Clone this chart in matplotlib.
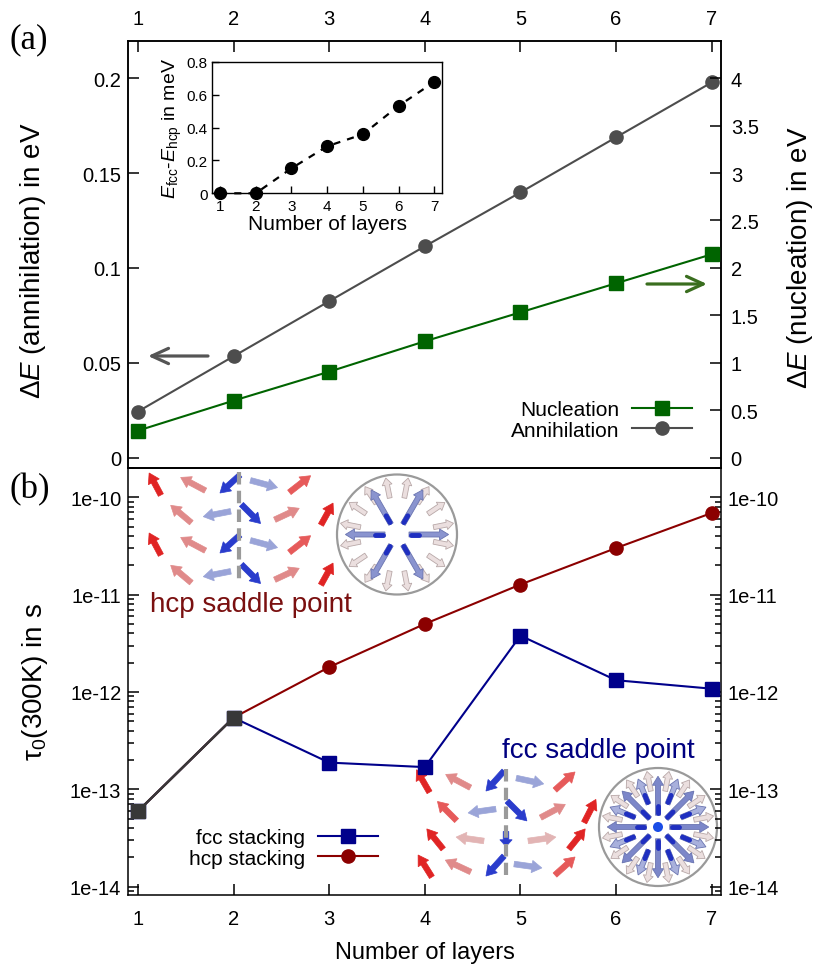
import numpy as np
import matplotlib
matplotlib.use('Agg')
import matplotlib.pyplot as plt
from matplotlib.patches import FancyArrow, Circle
from matplotlib.ticker import FixedLocator, FuncFormatter, LogLocator, NullFormatter

plt.rcParams['font.family'] = ['Liberation Sans', 'DejaVu Sans']
plt.rcParams['mathtext.fontset'] = 'custom'
plt.rcParams['mathtext.rm'] = 'Liberation Sans'
plt.rcParams['mathtext.it'] = 'Liberation Sans:italic'
plt.rcParams['mathtext.bf'] = 'Liberation Sans:bold'

# ---------------- data ----------------
layers = [1, 2, 3, 4, 5, 6, 7]
annihilation_eV = [0.0244, 0.0535, 0.0825, 0.1114, 0.1398, 0.1688, 0.1977]
nucleation_eV = [0.287, 0.603, 0.908, 1.228, 1.533, 1.839, 2.144]
inset_diff_meV = [0.0, 0.0, 0.152, 0.286, 0.359, 0.532, 0.678]
tau_fcc = [5.94e-14, 5.44e-13, 1.88e-13, 1.69e-13, 3.79e-12, 1.32e-12, 1.08e-12]
tau_hcp = [5.94e-14, 5.44e-13, 1.80e-12, 5.0e-12, 1.27e-11, 3.01e-11, 6.9e-11]
left_ticks_a = [0, 0.05, 0.1, 0.15, 0.2]
right_ticks_a = [0, 0.5, 1, 1.5, 2, 2.5, 3, 3.5, 4]
log_ticks_b = [1e-14, 1e-13, 1e-12, 1e-11, 1e-10]
inset_yticks = [0, 0.2, 0.4, 0.6, 0.8]

# colours
C_ANN = '#4d4d4d'
C_NUC = '#006400'
C_FCC = '#00008b'
C_HCP = '#8b0000'
C_BOTH = '#383838'

W, H = 830, 978
fig = plt.figure(figsize=(W / 100, H / 100), dpi=100)

def fx(px):
    return px / W

def fy(py):
    return 1 - py / H

AX_L, AX_R = 128.3, 721.0

# illustration overlay (pixel coordinates)
ax_ill = fig.add_axes([0, 0, 1, 1], zorder=0)
ax_ill.set_xlim(0, W)
ax_ill.set_ylim(H, 0)
ax_ill.axis('off')

ax_a = fig.add_axes([fx(AX_L), fy(469), fx(AX_R - AX_L), 427 / H], zorder=2)
ax_a2 = ax_a.twinx()
ax_a2.set_zorder(3)
ax_b = fig.add_axes([fx(AX_L), fy(896), fx(AX_R - AX_L), 427 / H], zorder=2)
ax_b.set_facecolor('none')

fmt_g = FuncFormatter(lambda v, p: '%g' % v)
TICK_FS = 14.5

# ---------------- panel (a) ----------------
l_ann, = ax_a.plot(layers, annihilation_eV, '-o', color=C_ANN, ms=9.5, lw=1.5,
                   label='Annihilation', clip_on=False, zorder=3)
l_nuc, = ax_a2.plot(layers, nucleation_eV, '-s', color=C_NUC, ms=9.5, lw=1.5,
                    label='Nucleation', clip_on=False, zorder=3)
ax_a.set_xlim(0.9, 7.097)
ax_a.set_ylim(-0.0053, 0.2195)
ax_a2.set_ylim(-0.106, 4.39)
ax_a.xaxis.tick_top()
ax_a.set_xticks(layers)
ax_a.xaxis.set_major_formatter(fmt_g)
ax_a.tick_params(axis='x', direction='in', length=8, width=1.1, pad=9.5,
                 labelsize=TICK_FS, top=True, bottom=False, labeltop=True, labelbottom=False)
ax_a.yaxis.set_major_locator(FixedLocator(left_ticks_a))
ax_a.yaxis.set_major_formatter(fmt_g)
ax_a.tick_params(axis='y', direction='in', length=8, width=1.1, pad=5,
                 labelsize=TICK_FS, left=True, right=False)
ax_a2.yaxis.set_major_locator(FixedLocator(right_ticks_a))
ax_a2.yaxis.set_major_formatter(fmt_g)
ax_a2.tick_params(axis='y', direction='in', length=8, width=1.1, pad=7,
                  labelsize=TICK_FS, right=True, left=False)
ax_a.set_ylabel('Δ$E$ (annihilation) in eV', fontsize=20)
ax_a.yaxis.set_label_coords(-0.1355, 0.487)
ax_a2.set_ylabel('Δ$E$ (nucleation) in eV', fontsize=20)
ax_a2.yaxis.set_label_coords(1.108, 0.495)

ax_a2.legend([l_nuc, l_ann], ['Nucleation', 'Annihilation'], loc='center right',
             bbox_to_anchor=(fx(692), fy(421)), bbox_transform=fig.transFigure,
             frameon=False, markerfirst=False, handlelength=2.9, handletextpad=0.6,
             labelspacing=0.05, borderpad=0, borderaxespad=0, fontsize=15)

# direction arrows
ax_a2.annotate('', xy=(148, 357), xytext=(208, 357), xycoords=ax_ill.transData,
               textcoords=ax_ill.transData,
               arrowprops=dict(arrowstyle='->,head_length=1.2,head_width=0.55',
                               color='#555555', lw=2.3, shrinkA=0, shrinkB=0))
ax_a2.annotate('', xy=(707, 285), xytext=(647, 285), xycoords=ax_ill.transData,
               textcoords=ax_ill.transData,
               arrowprops=dict(arrowstyle='->,head_length=1.2,head_width=0.55',
                               color='#3a6e1f', lw=2.3, shrinkA=0, shrinkB=0))

# ---------------- inset ----------------
ax_in = fig.add_axes([fx(211.7), fy(194.3), fx(442.3 - 211.7), 131.6 / H], zorder=6)
ax_in.plot(layers, inset_diff_meV, 'o', color='black', ms=8.5, clip_on=False, zorder=3)
ax_in.plot(layers, inset_diff_meV, '--', color='black', lw=1.6, dashes=(3.2, 3.2),
           clip_on=False)
ax_in.set_xlim(0.767, 7.22)
ax_in.set_ylim(0, 0.8)
ax_in.set_xticks(layers)
ax_in.xaxis.set_major_formatter(fmt_g)
ax_in.yaxis.set_major_locator(FixedLocator(inset_yticks))
ax_in.yaxis.set_major_formatter(fmt_g)
ax_in.tick_params(axis='both', direction='in', length=5, width=1, labelsize=11)
ax_in.tick_params(axis='x', pad=4)
ax_in.tick_params(axis='y', pad=3)
ax_in.set_xlabel('Number of layers', fontsize=15, labelpad=1)
ax_in.set_ylabel(r'$E_{\rm fcc}$-$E_{\rm hcp}$ in meV', fontsize=14, labelpad=2)
for s in ax_in.spines.values():
    s.set_linewidth(1.0)

# ---------------- panel (b) ----------------
ax_b.set_yscale('log')
l_fcc, = ax_b.plot(layers, tau_fcc, '-s', color=C_FCC, ms=9.5, lw=1.5,
                   label='fcc stacking', zorder=3)
l_hcp, = ax_b.plot(layers, tau_hcp, '-o', color=C_HCP, ms=9.5, lw=1.5,
                   label='hcp stacking', zorder=3)
ax_b.plot(layers[:2], tau_fcc[:2], '-s', color=C_BOTH, ms=9.5, lw=1.8, zorder=4)
ax_b.set_xlim(0.9, 7.097)
ax_b.set_ylim(8.2e-15, 2.0e-10)
ax_b.set_xticks(layers)
ax_b.xaxis.set_major_formatter(fmt_g)
ax_b.tick_params(axis='x', direction='in', length=8, width=1.1, pad=10,
                 labelsize=TICK_FS, top=False, bottom=True)
ax_b.yaxis.set_major_locator(FixedLocator(log_ticks_b))
ax_b.yaxis.set_minor_locator(LogLocator(base=10, subs=np.arange(2, 10), numticks=20))
ax_b.yaxis.set_minor_formatter(NullFormatter())
ax_b.yaxis.set_major_formatter(FuncFormatter(lambda v, p: f"{v:.0e}"))
ax_b.tick_params(axis='y', which='both', direction='in', left=True, right=True,
                 labelleft=True, labelright=True, width=1.1, labelsize=TICK_FS, pad=5)
ax_b.tick_params(axis='y', which='major', length=8)
ax_b.tick_params(axis='y', which='minor', length=4)
ax_b.set_xlabel('Number of layers', fontsize=17)
ax_b.xaxis.set_label_coords(0.5, -0.1077)
ax_b.set_ylabel(r'$\mathrm{\tau_0}$(300K) in s', fontsize=20)
ax_b.yaxis.set_label_coords(-0.132, 0.501)
ax_b.legend([l_fcc, l_hcp], ['fcc stacking', 'hcp stacking'], loc='center right',
            bbox_to_anchor=(fx(378), fy(849)), bbox_transform=fig.transFigure,
            frameon=False, markerfirst=False, handlelength=2.9, handletextpad=0.6,
            labelspacing=0.05, borderpad=0, borderaxespad=0, fontsize=15)

for ax in (ax_a, ax_a2, ax_b):
    for s in ax.spines.values():
        s.set_linewidth(1.1)

# panel letters
fig.text(fx(29), fy(40), '(a)', fontfamily='Liberation Serif', fontsize=25,
         ha='center', va='center')
fig.text(fx(30), fy(490), '(b)', fontfamily='Liberation Serif', fontsize=25,
         ha='center', va='center')

# ---------------- spin illustrations (decoration) ----------------
RED = '#e02424'
RED2 = '#e65a5a'
PINK = '#e08a8a'
LPINK = '#e2b4b4'
BLUE = '#2a3ccc'
LBLUE = '#9aa4d8'
WHITEP = '#ebdfdf'


def spin(cx, cy, ang, L, color, w=5.6, ec=None):
    a = np.deg2rad(ang)
    dx, dy = L * np.cos(a), -L * np.sin(a)
    ax_ill.add_patch(FancyArrow(cx - dx / 2, cy - dy / 2, dx, dy, width=w,
                                head_width=w * 2.2, head_length=min(10, L * 0.45),
                                length_includes_head=True, fc=color,
                                ec=ec if ec else color, lw=0.5))


def lattice(rows_y, rows_x, rows_ang, rows_col, rows_len):
    for y, xs, angs, cols, lens in zip(rows_y, rows_x, rows_ang, rows_col, rows_len):
        for x, a, c, L in zip(xs, angs, cols, lens):
            spin(x, y, a, L, c)


def skyrmion(cx, cy, r, inner_angles, inner_col, mid_angles, mid_col, dot):
    ax_ill.add_patch(Circle((cx, cy), r, fill=True, fc='white', ec='#9a9a9a', lw=1.6))
    for k in range(16):
        a = np.deg2rad(11.25 + 22.5 * k)
        r0, r1 = 0.62 * r, 0.96 * r
        ax_ill.add_patch(FancyArrow(cx + r0 * np.cos(a), cy - r0 * np.sin(a),
                                    (r1 - r0) * np.cos(a), -(r1 - r0) * np.sin(a),
                                    width=4.8, head_width=10, head_length=7,
                                    length_includes_head=True, fc=WHITEP,
                                    ec='#b8a8a8', lw=0.6))
    for ang_list, col, r0f, r1f in ((mid_angles, mid_col, 0.42, 0.88),
                                    (inner_angles, inner_col, 0.2, 0.86)):
        for ang in ang_list:
            a = np.deg2rad(ang)
            r0, r1 = r0f * r, r1f * r
            ax_ill.add_patch(FancyArrow(cx + r0 * np.cos(a), cy - r0 * np.sin(a),
                                        (r1 - r0) * np.cos(a), -(r1 - r0) * np.sin(a),
                                        width=5, head_width=11, head_length=9,
                                        length_includes_head=True, fc=col,
                                        ec='#6a74b0', lw=0.6))
            rb0, rb1 = (r0f + 0.03) * r, (r0f + 0.16) * r
            ax_ill.plot([cx + rb0 * np.cos(a), cx + rb1 * np.cos(a)],
                        [cy - rb0 * np.sin(a), cy - rb1 * np.sin(a)],
                        color='#1f2fc0', lw=3.5, solid_capstyle='round')
    if dot:
        ax_ill.add_patch(Circle((cx, cy), 5, fc='#1a4de6', ec='none'))


# hcp saddle point lattice
hcp_y = [485, 515, 545, 575]
hcp_xA = [155, 193, 230, 264, 300]
hcp_xB = [181, 217, 251, 287, 327]
hcp_aA = [118, 152, -138, -15, 38]
hcp_aB = [140, 191, -45, 25, 61]
hcp_cA = [RED, PINK, BLUE, LBLUE, RED2]
hcp_cB = [PINK, LBLUE, BLUE, PINK, RED]
lattice(hcp_y, [hcp_xA, hcp_xB, hcp_xA, hcp_xB], [hcp_aA, hcp_aB, hcp_aA, hcp_aB],
        [hcp_cA, hcp_cB, hcp_cA, hcp_cB], [[25, 28, 27, 28, 27], [27, 28, 27, 27, 25]] * 2)
ax_ill.plot([239, 239], [473, 583], color='#9a9a9a', lw=3, dashes=(3, 1.5))
skyrmion(397, 535.5, 60, [0, 60, 120, 180, 240, 300], '#8a94cf', [], '#a4acd8', False)
ax_ill.text(150, 612, 'hcp saddle point', color='#7a1010', fontsize=20,
            ha='left', va='baseline')

# fcc saddle point lattice
fcc_y = [782, 812, 840, 867]
fcc_x = [[423, 458, 495, 530, 565], [447, 482, 517, 553, 590],
         [435, 470, 506, 542, 577], [425, 458, 495, 528, 565]]
fcc_a = [[120, 152, -132, -12, 42], [135, 188, -45, 28, 63],
         [129, 172, -90, 8, 51], [122, 155, -132, -8, 42]]
fcc_c = [[RED, PINK, BLUE, LBLUE, RED2], [RED2, LBLUE, BLUE, PINK, RED],
         [RED, LPINK, BLUE, LPINK, RED], [RED, PINK, BLUE, LBLUE, RED2]]
fcc_len = [[26, 28, 27, 28, 27], [27, 28, 28, 28, 26],
           [26, 28, 15, 28, 26], [26, 28, 27, 28, 27]]
lattice(fcc_y, fcc_x, fcc_a, fcc_c, fcc_len)
ax_ill.plot([506, 506], [770, 876], color='#9a9a9a', lw=3, dashes=(3, 1.5), zorder=1)
skyrmion(658, 828, 59, [0, 45, 90, 135, 180, 225, 270, 315], '#7c87c9',
         [22.5 + 45 * k for k in range(8)], '#a8b0dc', True)
ax_ill.text(502, 758, 'fcc saddle point', color='#000080', fontsize=20,
            ha='left', va='baseline')

fig.savefig('out.png', dpi=100)
